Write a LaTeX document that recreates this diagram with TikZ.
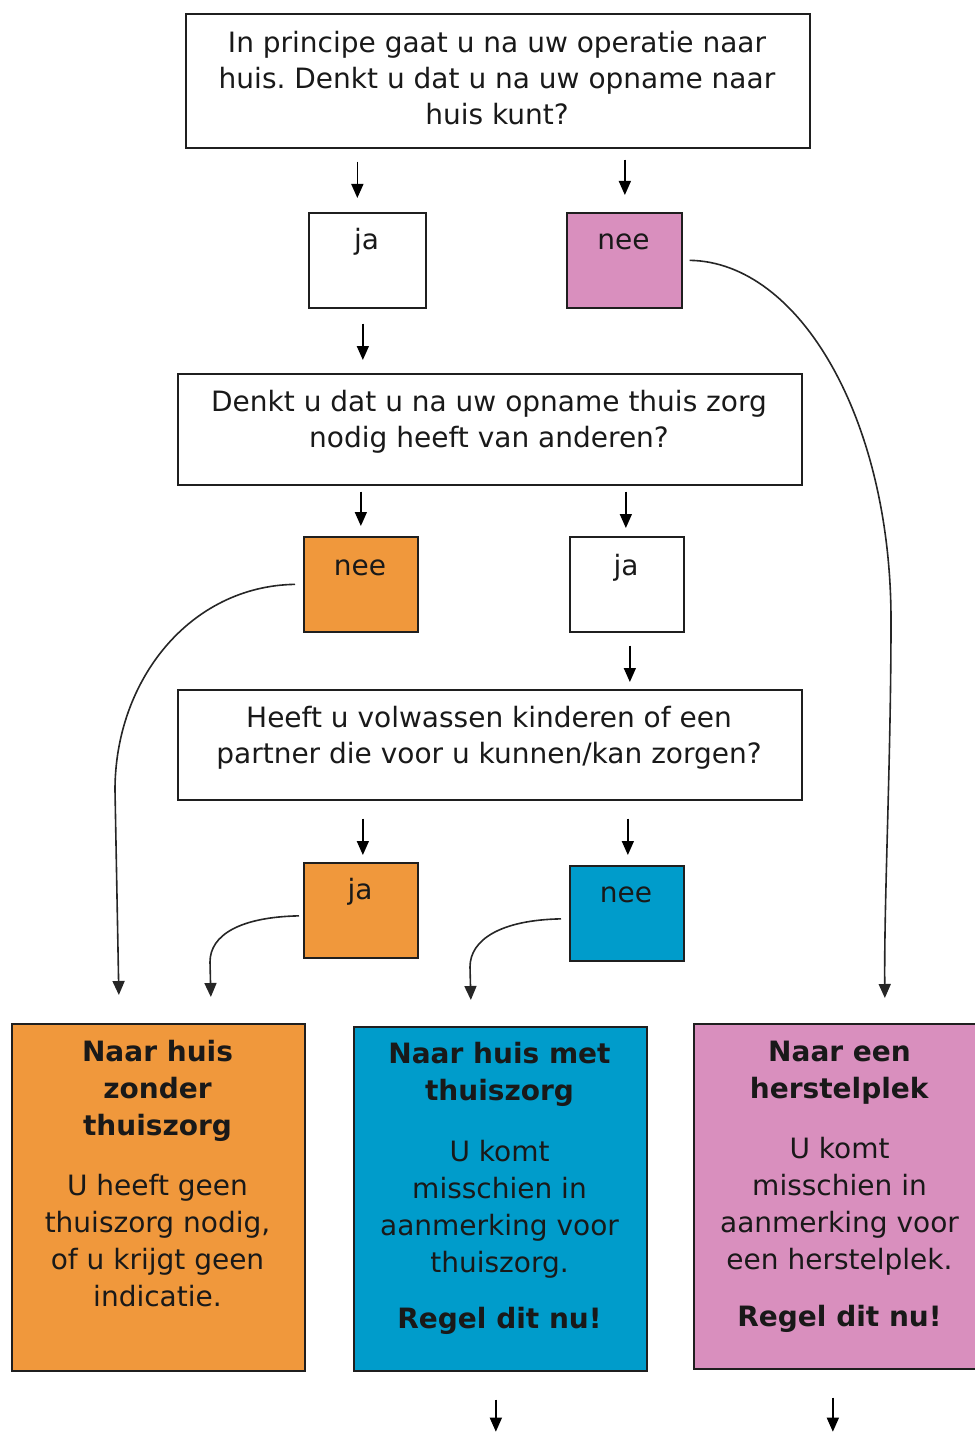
\documentclass[tikz,border=0pt]{standalone}
\usepackage{fontspec}
\setmainfont{DejaVu Sans}
\usetikzlibrary{arrows.meta,calc}
\definecolor{orangefill}{HTML}{F0983C}
\definecolor{bluefill}{HTML}{009CCB}
\definecolor{pinkfill}{HTML}{D98FBE}
\frenchspacing
\begin{document}
\begin{tikzpicture}[x=1pt,y=-1pt,
  box/.style={draw=black!88, line width=1.7pt, inner sep=0pt, anchor=north west},
  txt/.style={inner sep=0pt, align=center, anchor=north, text=black!90, font=\fontsize{28}{36}\selectfont},
  btxt/.style={inner sep=0pt, align=center, anchor=north, text=black!90, font=\fontsize{28}{37}\selectfont},
  ans/.style={inner sep=0pt, anchor=base, text=black!90, font=\fontsize{28}{36}\selectfont},
  arr/.style={line width=1.5pt, draw=black, -{Triangle[width=12pt,length=14pt]}},
  curv/.style={line width=1.6pt, draw=black!85, -{Triangle[width=12pt,length=14pt]}}]
\useasboundingbox (0,0) rectangle (974,1434);
% question boxes
\node[box, minimum width=624pt, minimum height=134pt] (q1) at (185,13) {};
\node[txt] (q1t) at (497,26.8) {\strut In principe gaat u na uw operatie naar\\huis. Denkt u dat u na uw opname naar\\huis kunt?};
\node[box, minimum width=624pt, minimum height=111pt] (q2) at (177,373) {};
\node[txt] (q2t) at (489,385.8) {\strut Denkt u dat u na uw opname thuis zorg\\nodig heeft van anderen?};
\node[box, minimum width=624pt, minimum height=110pt] (q3) at (177,689) {};
\node[txt] (q3t) at (489,701.8) {\strut Heeft u volwassen kinderen of een\\partner die voor u kunnen/kan zorgen?};
% answer boxes
\node[box, minimum width=117pt, minimum height=95pt] (ja1) at (308,212) {};
\node[ans] (ja1t) at (366.5,249) {ja};
\node[box, fill=pinkfill, minimum width=115pt, minimum height=95pt] (nee1) at (566,212) {};
\node[ans] (nee1t) at (623.5,249) {nee};
\node[box, fill=orangefill, minimum width=114pt, minimum height=95pt] (nee2) at (303,536) {};
\node[ans] (nee2t) at (360,575) {nee};
\node[box, minimum width=114pt, minimum height=95pt] (ja2) at (569,536) {};
\node[ans] (ja2t) at (626,575) {ja};
\node[box, fill=orangefill, minimum width=114pt, minimum height=95pt] (ja3) at (303,862) {};
\node[ans] (ja3t) at (360,899) {ja};
\node[box, fill=bluefill, minimum width=114pt, minimum height=95pt] (nee3) at (569,865) {};
\node[ans] (nee3t) at (626,902) {nee};
% outcome boxes
\node[box, fill=orangefill, minimum width=293pt, minimum height=347pt] (res1) at (11,1023) {};
\node[btxt] (res1t) at (157.5,1035.1) {\strut\textbf{Naar huis}\\\textbf{zonder}\\\textbf{thuiszorg}\\[23pt]U heeft geen\\thuiszorg nodig,\\of u krijgt geen\\indicatie.};
\node[box, fill=bluefill, minimum width=293pt, minimum height=344pt] (res2) at (353,1026) {};
\node[btxt] (res2t) at (499.5,1037.1) {\strut\textbf{Naar huis met}\\\textbf{thuiszorg}\\[24pt]U komt\\misschien in\\aanmerking voor\\thuiszorg.\\[19pt]\textbf{Regel dit nu!}};
\node[box, fill=pinkfill, minimum width=293pt, minimum height=345pt] (res3) at (693,1023) {};
\node[btxt] (res3t) at (839.5,1035.1) {\strut\textbf{Naar een}\\\textbf{herstelplek}\\[23pt]U komt\\misschien in\\aanmerking voor\\een herstelplek.\\[20pt]\textbf{Regel dit nu!}};
% straight arrows
\draw[arr] ($(q1.south -| ja1.north)+(-10,13)$) -- ($(ja1.north)+(-10,-14)$);
\draw[arr] ($(q1.south -| nee1.north)+(0.5,11)$) -- ($(nee1.north)+(0.5,-17)$);
\draw[arr] ($(ja1.south)+(-4.5,15)$) -- ($(q2.north -| ja1.south)+(-4.5,-13)$);
\draw[arr] ($(q2.south -| nee2.north)+(0,6)$) -- ($(nee2.north)+(0,-10)$);
\draw[arr] ($(q2.south -| ja2.north)+(-1,6)$) -- ($(ja2.north)+(-1,-8)$);
\draw[arr] ($(ja2.south)+(3,13)$) -- ($(q3.north -| ja2.south)+(3,-7)$);
\draw[arr] ($(q3.south -| ja3.north)+(2,18)$) -- ($(ja3.north)+(2,-7)$);
\draw[arr] ($(q3.south -| nee3.north)+(1,18)$) -- ($(nee3.north)+(1,-10)$);
\coordinate (out2) at ($(res2.south)+(-4.5,60)$);
\coordinate (out3) at ($(res3.south)+(-7.5,62)$);
\draw[arr] ($(res2.south)+(-4.5,28)$) -- (out2);
\draw[arr] ($(res3.south)+(-7.5,28)$) -- (out3);
% curved connectors
\coordinate (in3) at ($(res3.north)+(44.5,-25)$);
\coordinate (in1a) at ($(res1.north)+(-39.5,-28)$);
\coordinate (in1b) at ($(res1.north)+(52.5,-26)$);
\coordinate (in2) at ($(res2.north)+(-29.5,-26)$);
\draw[curv] ($(nee1.east)+(7,0)$) .. controls (800,262) and (891,420) .. (891,620) .. controls (891,760) and (884,900) .. (in3);
\draw[curv] ($(nee2.west)+(-8,0)$) .. controls (190,586) and (115,680) .. (115,790) -- (in1a);
\draw[curv] ($(ja3.west)+(-4,5.5)$) .. controls (240,917) and (210,935) .. (210,962) -- (in1b);
\draw[curv] ($(nee3.west)+(-8,5.5)$) .. controls (500,920) and (470,940) .. (470,967) -- (in2);
\end{tikzpicture}
\end{document}
